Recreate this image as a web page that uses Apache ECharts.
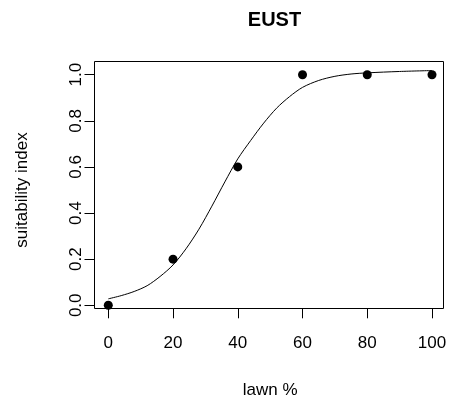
<!DOCTYPE html>
<html>
<head>
<meta charset="utf-8">
<script src="https://cdn.jsdelivr.net/npm/echarts@6/dist/echarts.min.js"></script>
<style>html,body{margin:0;padding:0;background:#fff;}#c{width:449px;height:401px;}</style>
</head>
<body>
<div id="c"></div>
<script>
// Observed points
var pointX = [0, 20, 40, 60, 80, 100];
var pointY = [0, 0.2, 0.6, 1, 1, 1];
// Fitted curve
var curveX = [0, 4, 8, 12, 16, 20, 24, 28, 32, 36, 40, 44, 48, 52, 56, 60, 65, 70, 75, 80, 90, 100];
var curveY = [0.028, 0.042, 0.060, 0.085, 0.125, 0.175, 0.245, 0.33, 0.43, 0.535, 0.635, 0.715, 0.79, 0.855, 0.905, 0.945, 0.975, 0.993, 1.003, 1.008, 1.014, 1.018];
var xTicks = [0, 20, 40, 60, 80, 100];
var yTicks = [0, 0.2, 0.4, 0.6, 0.8, 1.0];

var FONT = 'Liberation Sans, Arial, sans-serif';
// plot frame extent in data units (R's usr region)
var FRAME = {x0: -4.26, x1: 103.55, y0: -0.0139, y1: 1.0572};

var chart = echarts.init(document.getElementById('c'), null, {renderer: 'canvas'});
var pts = pointX.map(function (x, i) { return [x, pointY[i]]; });
var crv = curveX.map(function (x, i) { return [x, curveY[i]]; });

chart.setOption({
  animation: false,
  backgroundColor: '#fff',
  title: {
    text: 'EUST', left: 269.5, top: 5, textAlign: 'center',
    textStyle: {fontFamily: FONT, fontSize: 20, fontWeight: 'bold', color: '#000'}
  },
  grid: [
    {left: 108.3, top: 74.7, width: 323.7, height: 230.6, outerBoundsMode: 'none', containLabel: false}
  ],
  xAxis: [
    {type: 'value', min: xTicks[0], max: xTicks[xTicks.length - 1], interval: 20,
     position: 'bottom', offset: 3,
     name: 'lawn %', nameLocation: 'middle', nameGap: 74,
     nameTextStyle: {fontFamily: FONT, fontSize: 17, color: '#000'},
     axisLine: {show: false, onZero: false},
     axisTick: {show: true, length: 10, lineStyle: {color: '#000', width: 1}},
     axisLabel: {show: true, margin: 27, fontFamily: FONT, fontSize: 17, color: '#000'},
     splitLine: {show: false}}
  ],
  yAxis: [
    {type: 'value', min: yTicks[0], max: yTicks[yTicks.length - 1], interval: 0.2,
     position: 'left', offset: 13.8,
     name: 'suitability index', nameLocation: 'middle', nameGap: 64, nameRotate: 90,
     nameTextStyle: {fontFamily: FONT, fontSize: 17, color: '#000'},
     axisLine: {show: false, onZero: false},
     axisTick: {show: true, length: 10, lineStyle: {color: '#000', width: 1}},
     axisLabel: {show: true, margin: 10, rotate: 90, fontFamily: FONT, fontSize: 17, color: '#000',
                 formatter: function (v) { return v.toFixed(1); }},
     splitLine: {show: false}}
  ],
  series: [
    {type: 'custom', silent: true, clip: false, data: [[0, 0]],
     renderItem: function (params, api) {
       var a = api.coord([FRAME.x0, FRAME.y1]);
       var b = api.coord([FRAME.x1, FRAME.y0]);
       var x0 = Math.floor(a[0]) + 0.5, y0 = Math.floor(a[1]) + 0.5;
       var x1 = Math.floor(b[0]) + 0.5, y1 = Math.floor(b[1]) + 0.5;
       return {type: 'rect', shape: {x: x0, y: y0, width: x1 - x0, height: y1 - y0},
               style: {fill: null, stroke: '#000', lineWidth: 1}};
     }},
    {type: 'line', data: crv, smooth: 0.3, showSymbol: false, clip: false,
     lineStyle: {color: '#000', width: 1}, silent: true},
    {type: 'scatter', data: pts, symbol: 'circle', symbolSize: 9, clip: false,
     itemStyle: {color: '#000', opacity: 1}}
  ]
});
</script>
</body>
</html>
